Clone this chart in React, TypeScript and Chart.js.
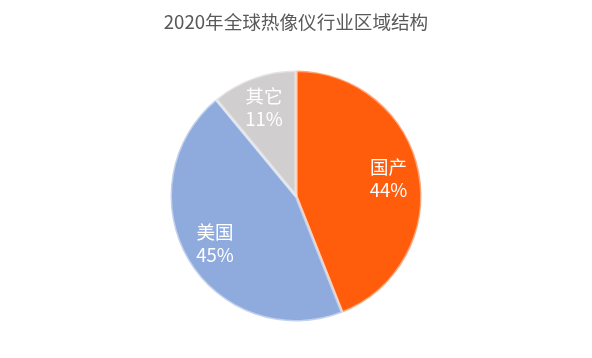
import React, { useEffect, useRef } from "react";
import { Chart, registerables } from "chart.js";

Chart.register(...registerables);

const titleText = "2020年全球热像仪行业区域结构";
const categories = ["国产", "美国", "其它"];
const values = [44, 45, 11];
const colors = ["#FF5D0C", "#8FAADC", "#D0CECE"];

const FONT = "'Noto Sans CJK SC', 'Microsoft YaHei', sans-serif";

const labelPlugin = {
  id: "sliceLabels",
  afterDatasetsDraw(chart: any) {
    const ctx = chart.ctx;
    const meta = chart.getDatasetMeta(0);
    ctx.save();
    ctx.fillStyle = "#FFFFFF";
    ctx.textAlign = "center";
    ctx.textBaseline = "middle";
    ctx.font = `18.5px ${FONT}`;
    meta.data.forEach((arc: any, i: number) => {
      const mid = (arc.startAngle + arc.endAngle) / 2;
      const r = arc.outerRadius * 0.75;
      const x = arc.x + Math.cos(mid) * r;
      const y = arc.y + Math.sin(mid) * r;
      ctx.fillText(categories[i], x, y - 11.5);
      ctx.fillText(values[i] + "%", x, y + 11.5);
    });
    ctx.restore();
  },
};

export default function App() {
  const ref = useRef<HTMLCanvasElement>(null);
  useEffect(() => {
    document.body.style.margin = "0";
    const chart = new Chart(ref.current!, {
      type: "pie",
      data: {
        labels: categories,
        datasets: [
          {
            data: values,
            backgroundColor: colors,
            borderColor: "rgba(255,255,255,0.45)",
            borderWidth: 3,
          },
        ],
      },
      options: {
        animation: false,
        responsive: false,
        layout: { padding: { top: 0, bottom: 35, left: 0, right: 0 } },
        plugins: {
          legend: { display: false },
          tooltip: { enabled: false },
          title: {
            display: true,
            text: titleText,
            color: "#595959",
            font: { family: FONT, size: 18.6, weight: "normal" },
            padding: { top: 11, bottom: 35.7 },
          },
        },
      },
      plugins: [labelPlugin],
    });
    return () => chart.destroy();
  }, []);
  return (
    <div style={{ position: "absolute", left: 0, top: 0, width: 592, height: 358, background: "#fff" }}>
      <canvas ref={ref} width={592} height={358} style={{ width: 592, height: 358 }} />
    </div>
  );
}
